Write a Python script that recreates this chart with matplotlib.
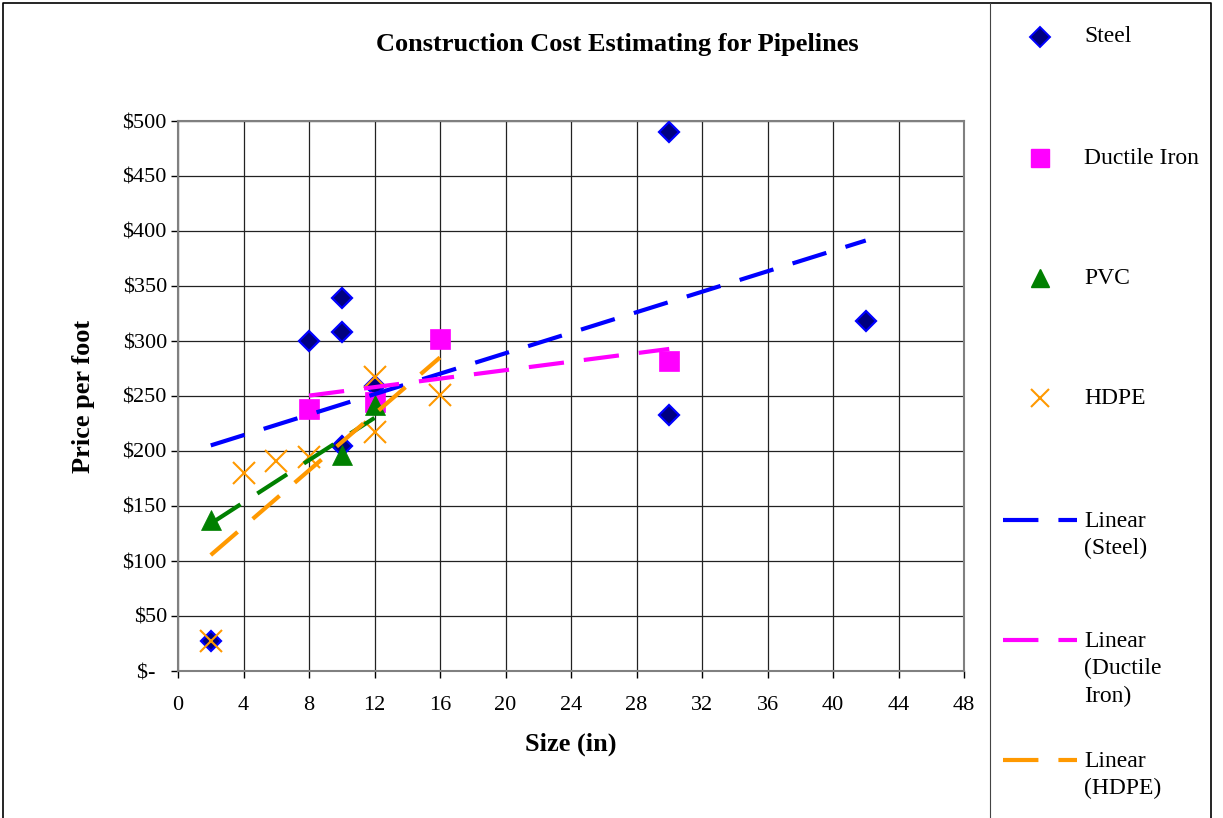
import matplotlib.pyplot as plt
import numpy as np
from matplotlib.ticker import FuncFormatter

plt.rcParams['font.family'] = ['Liberation Serif', 'DejaVu Serif']

# pipe size (in) and price per foot ($) for each material
steel_size = [2, 8, 10, 10, 10, 12, 30, 30, 42]
steel_price = [27, 300, 339, 308, 205, 259, 490, 233, 318]

ductile_size = [8, 12, 16, 30]
ductile_price = [238, 245, 302, 282]

pvc_size = [2, 10, 12]
pvc_price = [137, 196, 242]

hdpe_size = [2, 4, 6, 8, 12, 12, 16]
hdpe_price = [27, 180, 191, 195, 267, 217, 251]

x_ticks = list(range(0, 49, 4))
y_ticks = list(range(0, 501, 50))


def money(v, pos):
    # accounting style: zero shows as a dash
    if v == 0:
        return '$-  '
    return '${:.0f}'.format(v)


W, H = 1223, 818
fig = plt.figure(figsize=(W / 100, H / 100), dpi=100)
ax = fig.add_axes([178 / W, 1 - 671 / H, (964 - 178) / W, (671 - 121) / H])

ax.plot(steel_size, steel_price, linestyle='none', marker='D', ms=10,
        mfc='#000080', mec='#0000FF', mew=1.6, zorder=3)
ax.plot(ductile_size, ductile_price, linestyle='none', marker='s', ms=15,
        mfc='#FF00FF', mec='#FF00FF', mew=0.5, zorder=3)
ax.plot(pvc_size, pvc_price, linestyle='none', marker='^', ms=15,
        mfc='#008000', mec='#008000', mew=0.5, zorder=3)
ax.plot(hdpe_size, hdpe_price, linestyle='none', marker='x', ms=16,
        mec='#FF9900', mew=1.5, zorder=3)

# linear trend lines, fitted over each series' own size range
dash = (8.5, 4.8)
for xs, ys, color in [(steel_size, steel_price, '#0000FF'),
                      (ductile_size, ductile_price, '#FF00FF'),
                      (pvc_size, pvc_price, '#008000'),
                      (hdpe_size, hdpe_price, '#FF9900')]:
    m, b = np.polyfit(xs, ys, 1)
    xx = np.array([min(xs), max(xs)])
    ax.plot(xx, m * xx + b, color=color, lw=3, dashes=dash,
            solid_capstyle='butt', dash_capstyle='butt', zorder=4)

ax.set_xlim(0, 48)
ax.set_ylim(0, 500)
ax.set_xticks(x_ticks)
ax.set_yticks(y_ticks)
ax.yaxis.set_major_formatter(FuncFormatter(money))
ax.grid(True, color='#222222', lw=0.9)
ax.set_axisbelow(True)
for s in ax.spines.values():
    s.set_color('#808080')
    s.set_linewidth(1.5)
ax.tick_params(direction='out', length=5, width=1, color='#000000',
               labelsize=16)
ax.tick_params(axis='x', pad=13)
ax.tick_params(axis='y', pad=3)

ax.set_xlabel('Size (in)', fontsize=19, fontweight='bold', labelpad=13)
ax.set_ylabel('Price per foot', fontsize=19, fontweight='bold', labelpad=20)
fig.text(617 / W, 1 - 44 / H, 'Construction Cost Estimating for Pipelines',
         ha='center', va='center', fontsize=19, fontweight='bold')

# overlay in pixel units for the chart frame and the legend column
lax = fig.add_axes([0, 0, 1, 1], zorder=5)
lax.set_xlim(0, W)
lax.set_ylim(H, 0)
lax.axis('off')
lax.plot([3, 3, 1211, 1211], [H, 3, 3, H], color='black', lw=1.2)
lax.plot([990, 990], [3, H], color='#444444', lw=0.8)

legend_rows = [
    ('Steel', 37, dict(marker='D', ms=10, mfc='#000080', mec='#0000FF', mew=1.4)),
    ('Ductile Iron', 158, dict(marker='s', ms=13, mfc='#FF00FF', mec='#FF00FF')),
    ('PVC', 278, dict(marker='^', ms=13, mfc='#008000', mec='#008000')),
    ('HDPE', 398, dict(marker='x', ms=13, mec='#FF9900', mew=1.5)),
]
for label, y, style in legend_rows:
    lax.plot([1040], [y], linestyle='none', **style)
    lax.text(1084, y, label, fontsize=17, va='center', ha='left')

trend_rows = [
    ('Linear\n(Steel)', 520, '#0000FF'),
    ('Linear\n(Ductile\nIron)', 640, '#FF00FF'),
    ('Linear\n(HDPE)', 760, '#FF9900'),
]
for label, y, color in trend_rows:
    lax.plot([1003, 1077], [y, y], color=color, lw=3, dashes=dash,
             dash_capstyle='butt', solid_capstyle='butt')
    lax.text(1084, y - 9, label, fontsize=17, va='top', ha='left',
             linespacing=1.38)

fig.savefig('out.png', dpi=100)
